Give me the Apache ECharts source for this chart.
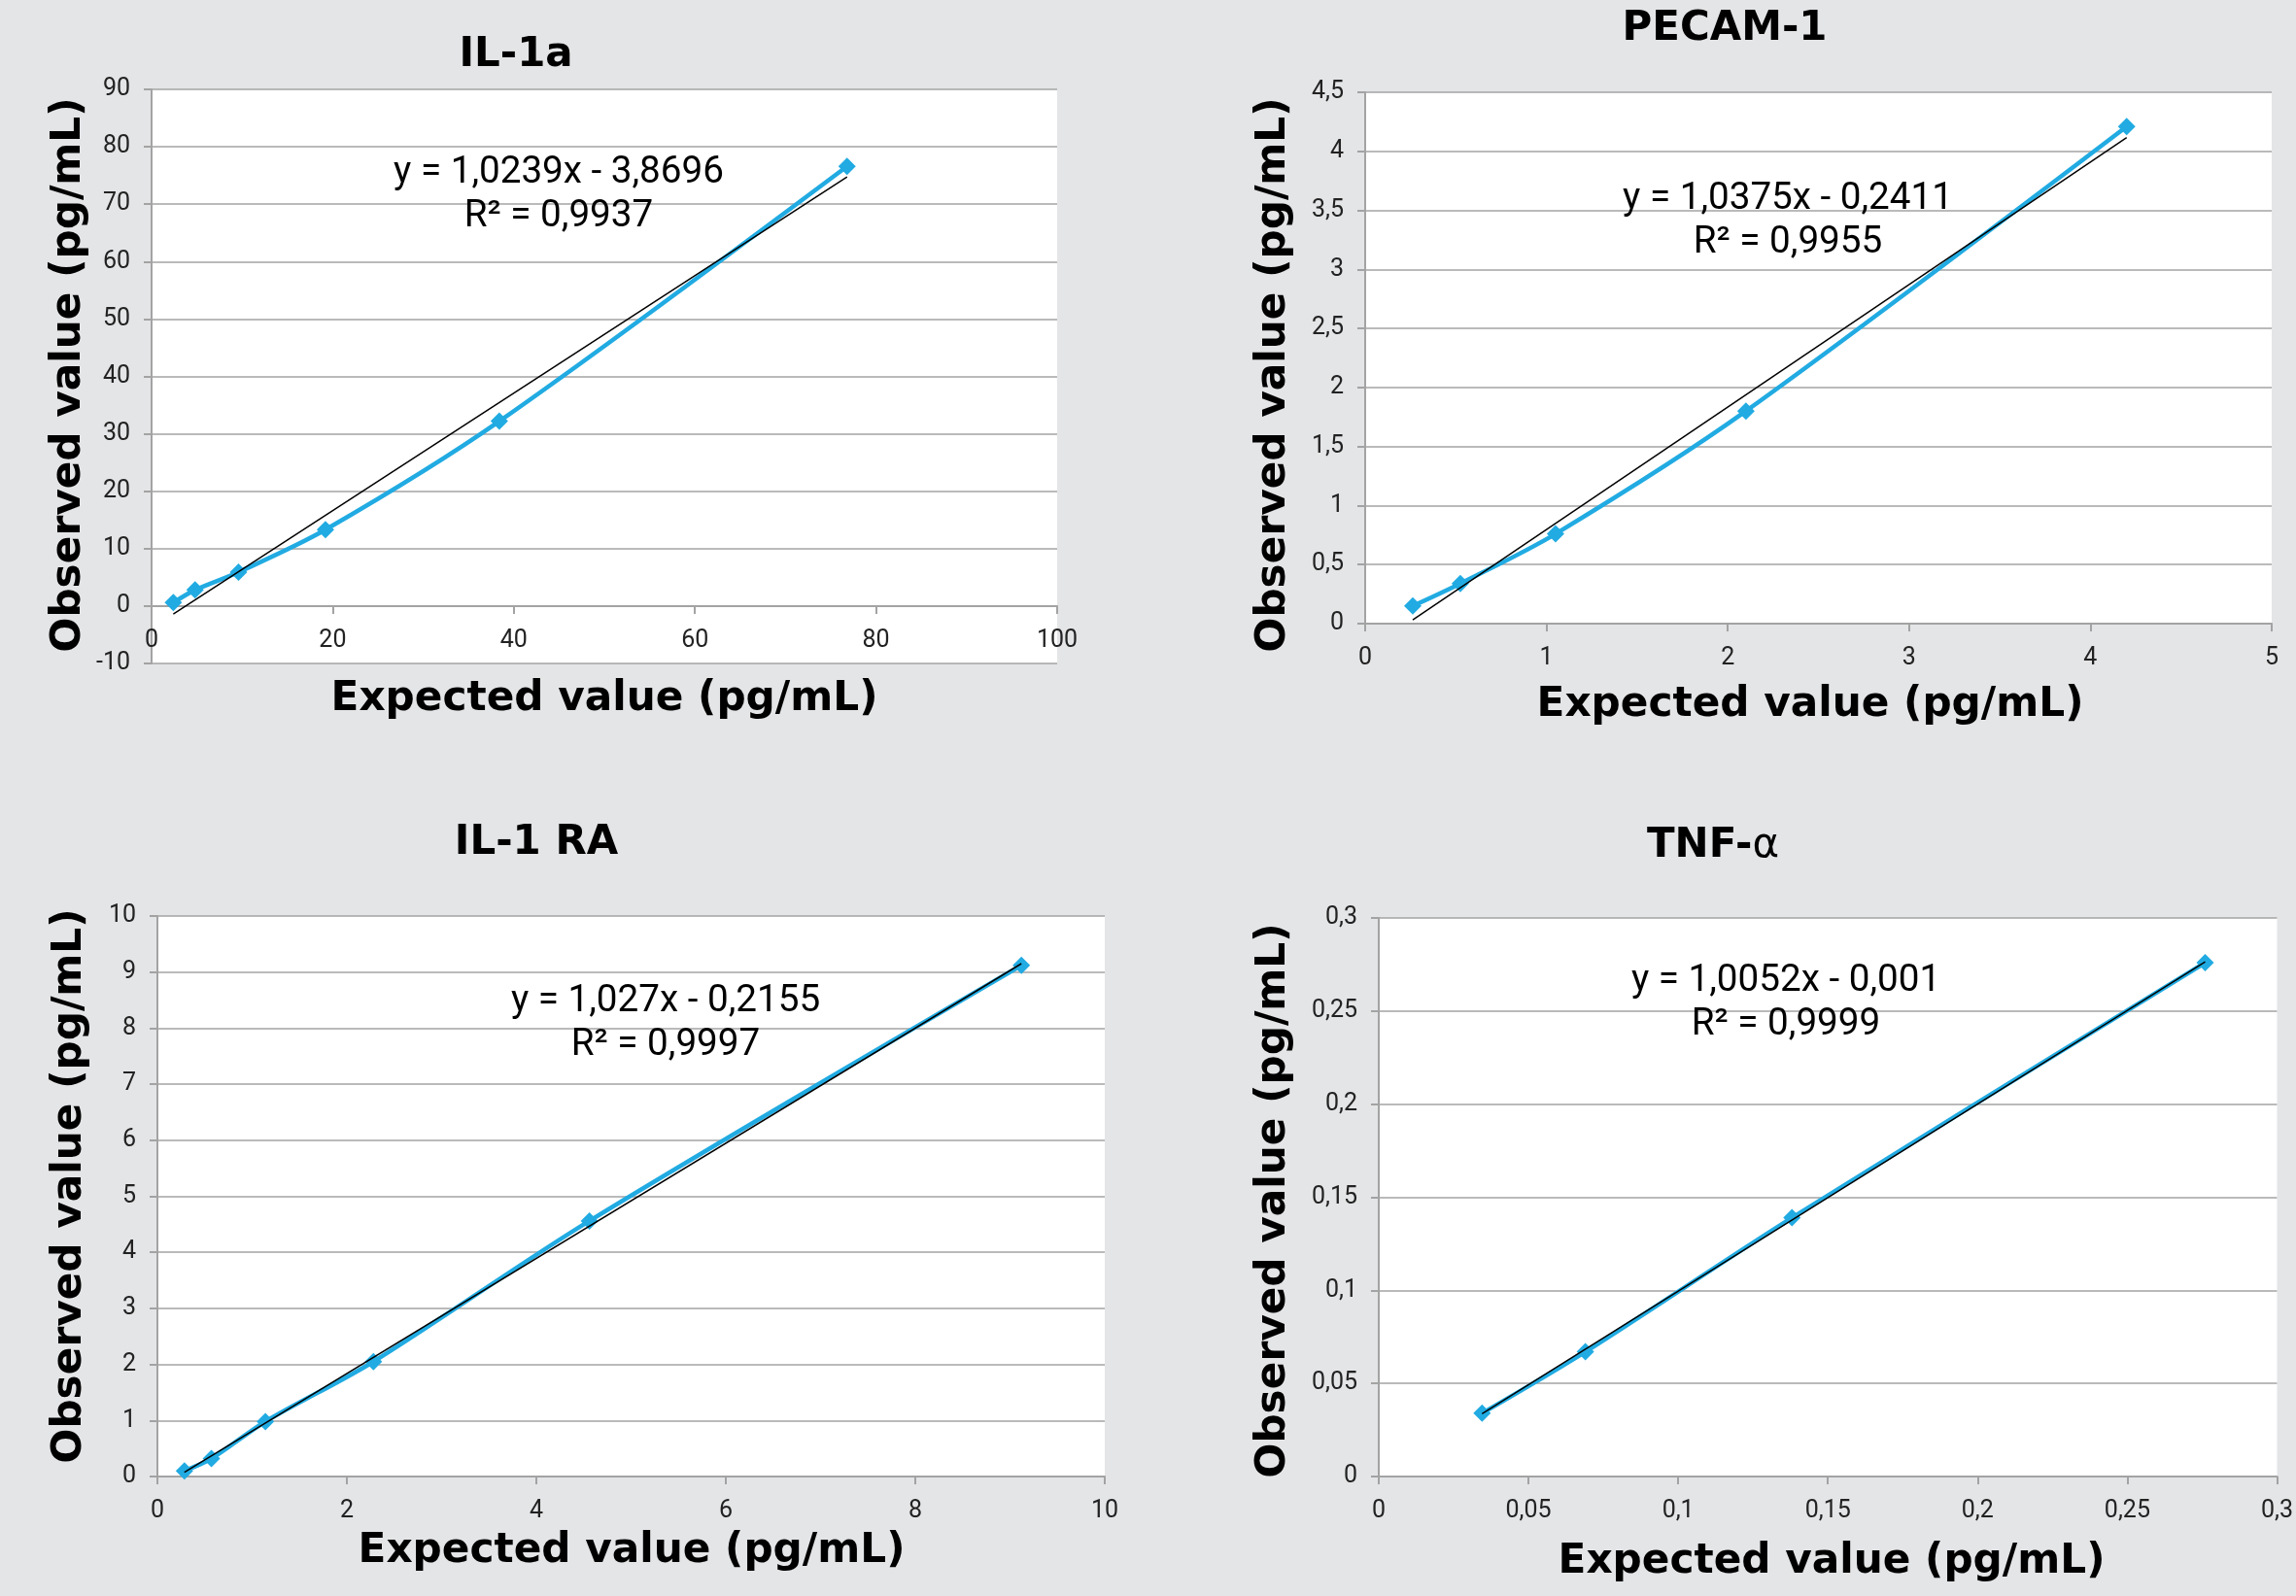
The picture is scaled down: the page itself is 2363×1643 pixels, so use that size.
<!DOCTYPE html>
<html>
<head>
<meta charset="utf-8">
<script src="https://cdn.jsdelivr.net/npm/echarts@6/dist/echarts.min.js"></script>
<style>
html,body{margin:0;padding:0;background:#e4e5e7;}
#c{width:2363px;height:1643px;}
</style>
</head>
<body>
<div id="c"></div>
<script>
// ---- data ----
const il1aExpected = [2.4, 4.8, 9.6, 19.2, 38.4, 76.8];
const il1aObserved = [0.6, 2.8, 5.9, 13.3, 32.2, 76.6];
const il1aTrend = [[2.4, -1.41], [76.8, 74.77]];
const il1aX = [0, 100, 20];
const il1aY = [-10, 90, 10];

const pecamExpected = [0.2625, 0.525, 1.05, 2.1, 4.2];
const pecamObserved = [0.15, 0.34, 0.76, 1.8, 4.21];
const pecamTrend = [[0.2625, 0.031], [4.2, 4.116]];
const pecamX = [0, 5, 1];
const pecamY = [0, 4.5, 0.5];

const il1raExpected = [0.285, 0.57, 1.14, 2.28, 4.56, 9.12];
const il1raObserved = [0.1, 0.32, 0.98, 2.05, 4.56, 9.12];
const il1raTrend = [[0.285, 0.077], [9.12, 9.151]];
const il1raX = [0, 10, 2];
const il1raY = [0, 10, 1];

const tnfExpected = [0.0345, 0.069, 0.138, 0.276];
const tnfObserved = [0.034, 0.067, 0.139, 0.276];
const tnfTrend = [[0.0345, 0.0337], [0.276, 0.2764]];
const tnfX = [0, 0.3, 0.05];
const tnfY = [0, 0.3, 0.05];

const titles = ['IL-1a', 'PECAM-1', 'IL-1 RA', 'TNF-α'];
const equations = [
  ['y = 1,0239x - 3,8696', 'R² = 0,9937'],
  ['y = 1,0375x - 0,2411', 'R² = 0,9955'],
  ['y = 1,027x - 0,2155', 'R² = 0,9997'],
  ['y = 1,0052x - 0,001', 'R² = 0,9999']
];
const xName = 'Expected value (pg/mL)';
const yName = 'Observed value (pg/mL)';

// ---- layout / style ----
const FONT = '"DejaVu Sans", sans-serif';
const RFONT = 'Roboto, "DejaVu Sans", sans-serif';
const BLUE = '#21abe2';
const AXIS = '#a3a3a3';
const cv = document.createElement('canvas').getContext('2d');
function fit(text, weight, family, target) {
  cv.font = weight + ' 100px ' + family;
  return 100 * target / cv.measureText(text).width;
}
const nameSize = fit(xName, 'bold', FONT, 563);
const titleSize = fit('PECAM-1', 'bold', FONT, 211);
const eqSize = fit('y = 1,0239x - 3,8696', 'normal', RFONT, 340);
const tickSize = 25;

const grids = [
  {left: 156, top: 92, width: 932, height: 591},
  {left: 1405, top: 95, width: 933, height: 547},
  {left: 162, top: 943, width: 975, height: 577},
  {left: 1419, top: 945, width: 933, height: 575}
];
const pos = [
  {title: [531, 57], yn: [71, 386], xn: [622, 720], eq: [575, 178, 223]},
  {title: [1775, 30], yn: [1311, 386], xn: [1863, 726], eq: [1840, 205, 250]},
  {title: [552, 868], yn: [72, 1221], xn: [650, 1597], eq: [685, 1031, 1076]},
  {title: [1763, 871], yn: [1311, 1236], xn: [1885, 1608], eq: [1838, 1010, 1055]}
];
const sets = [
  [il1aExpected, il1aObserved, il1aTrend, il1aX, il1aY],
  [pecamExpected, pecamObserved, pecamTrend, pecamX, pecamY],
  [il1raExpected, il1raObserved, il1raTrend, il1raX, il1raY],
  [tnfExpected, tnfObserved, tnfTrend, tnfX, tnfY]
];

const fmt = v => String(+(+v).toFixed(6)).replace('.', ',');

const option = {
  animation: false,
  backgroundColor: '#e4e5e7',
  grid: grids.map(g => Object.assign({show: true, backgroundColor: '#ffffff', borderWidth: 0, containLabel: false}, g)),
  xAxis: sets.map((s, i) => {
    const ymin = s[4][0], ymax = s[4][1];
    // x axis crosses the value axis at 0 (like the original): move it up from the grid bottom
    const off = ymin < 0 ? -grids[i].height * (0 - ymin) / (ymax - ymin) : 0;
    return {
      type: 'value', gridIndex: i, min: s[3][0], max: s[3][1], interval: s[3][2],
      position: 'bottom', offset: off,
      axisLine: {show: true, onZero: false, lineStyle: {color: AXIS, width: 2}},
      axisTick: {show: true, inside: false, length: 8, lineStyle: {color: AXIS, width: 2}},
      axisLabel: {show: true, margin: 23, color: '#222', fontFamily: RFONT, fontSize: tickSize, formatter: fmt, hideOverlap: false, showMinLabel: true, showMaxLabel: true},
      splitLine: {show: false}
    };
  }),
  yAxis: sets.map((s, i) => ({
    type: 'value', gridIndex: i, min: s[4][0], max: s[4][1], interval: s[4][2],
    axisLine: {show: true, onZero: false, lineStyle: {color: AXIS, width: 2}},
    axisTick: {show: true, inside: false, length: 8, lineStyle: {color: AXIS, width: 2}},
    axisLabel: {show: true, margin: 22, color: '#222', fontFamily: RFONT, fontSize: tickSize, formatter: fmt, hideOverlap: false, showMinLabel: true, showMaxLabel: true},
    splitLine: {show: true, showMinLine: true, showMaxLine: true, lineStyle: {color: AXIS, width: 1.5}}
  })),
  series: [].concat(...sets.map((s, i) => [
    {
      type: 'line', xAxisIndex: i, yAxisIndex: i, z: 2,
      data: s[0].map((x, j) => [x, s[1][j]]),
      smooth: 0.3, symbol: 'diamond', symbolSize: 18,
      lineStyle: {color: BLUE, width: 4.5}, itemStyle: {color: BLUE},
      clip: false
    },
    {
      type: 'line', xAxisIndex: i, yAxisIndex: i, z: 3, silent: true,
      data: s[2], symbol: 'none',
      lineStyle: {color: '#000000', width: 1.5}
    }
  ])),
  graphic: [].concat(...pos.map((p, i) => {
    const els = [];
    if (i === 3) {
      els.push({type: 'text', x: p.title[0], y: p.title[1], style: {
        text: '{b|TNF-}{r|α}', align: 'center', verticalAlign: 'middle',
        rich: {
          b: {fontFamily: FONT, fontWeight: 'bold', fontSize: titleSize, fill: '#000'},
          r: {fontFamily: FONT, fontWeight: 'normal', fontSize: titleSize, fill: '#000'}
        }
      }});
    } else {
      els.push({type: 'text', x: p.title[0], y: p.title[1], style: {
        text: titles[i], align: 'center', verticalAlign: 'middle',
        fontFamily: FONT, fontWeight: 'bold', fontSize: titleSize, fill: '#000'}});
    }
    els.push({type: 'text', x: p.xn[0], y: p.xn[1], style: {
      text: xName, align: 'center', verticalAlign: 'middle',
      fontFamily: FONT, fontWeight: 'bold', fontSize: nameSize, fill: '#000'}});
    els.push({type: 'text', x: p.yn[0], y: p.yn[1], rotation: Math.PI / 2, style: {
      text: yName, align: 'center', verticalAlign: 'middle',
      fontFamily: FONT, fontWeight: 'bold', fontSize: nameSize, fill: '#000'}});
    els.push({type: 'text', x: p.eq[0], y: p.eq[1], z: 10, style: {
      text: equations[i][0], align: 'center', verticalAlign: 'middle',
      fontFamily: RFONT, fontSize: eqSize, fill: '#000'}});
    els.push({type: 'text', x: p.eq[0], y: p.eq[2], z: 10, style: {
      text: equations[i][1], align: 'center', verticalAlign: 'middle',
      fontFamily: RFONT, fontSize: eqSize, fill: '#000'}});
    return els;
  }))
};

const chart = echarts.init(document.getElementById('c'), null, {renderer: 'canvas'});
chart.setOption(option);
</script>
</body>
</html>
